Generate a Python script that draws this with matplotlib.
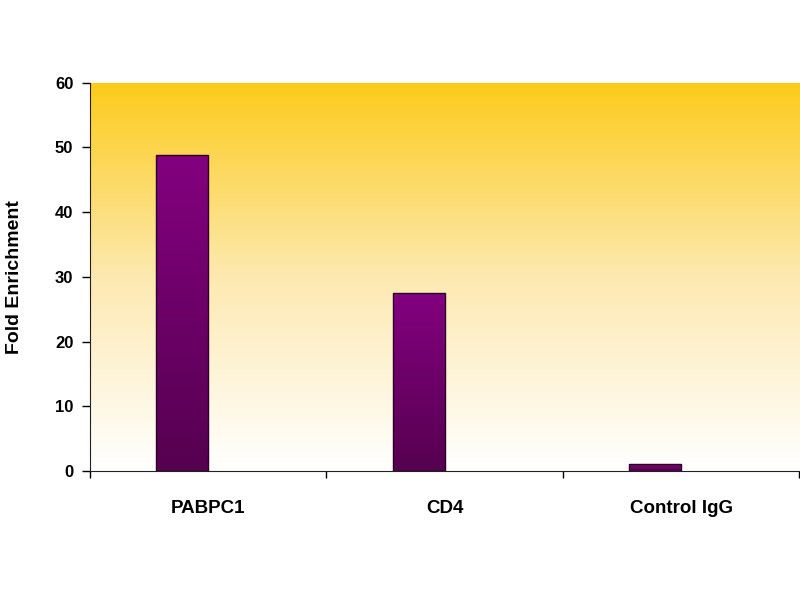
import numpy as np
import matplotlib.pyplot as plt
from matplotlib.colors import LinearSegmentedColormap
from matplotlib.patches import Rectangle

categories = ['PABPC1', 'CD4', 'Control IgG']
fold_enrichment = [48.9, 27.5, 1.1]
y_ticks = [0, 10, 20, 30, 40, 50, 60]

plt.rcParams['font.family'] = ['Liberation Sans', 'DejaVu Sans']
plt.rcParams['font.weight'] = 'bold'

fig = plt.figure(figsize=(8, 6), dpi=100)
ax = fig.add_axes([0.1125, 0.215, 0.8865, 0.647])

x = np.arange(len(categories))
ax.set_xlim(-0.5, len(categories) - 0.5)
ax.set_ylim(0, 60)

# background gradient: gold at top fading to white
bg = LinearSegmentedColormap.from_list('bg', ['#ffffff', '#fde9b0', '#fccb1a'])
grad = np.linspace(0, 1, 256).reshape(-1, 1)
ax.imshow(grad, cmap=bg, aspect='auto', origin='lower',
          extent=[-0.5, len(categories) - 0.5, 0, 60], zorder=0)

# bars with vertical purple gradient
bar_cmap = LinearSegmentedColormap.from_list('bar', ['#560050', '#83007f'])
width = 0.22
offset = -0.11
for xi, v in zip(x, fold_enrichment):
    left = xi + offset - width / 2
    im = ax.imshow(grad, cmap=bar_cmap, aspect='auto', origin='lower',
                   extent=[left, left + width, 0, v], zorder=2)
    rect = Rectangle((left, 0), width, v, facecolor='none',
                     edgecolor='#2a0028', linewidth=1.0, zorder=3)
    ax.add_patch(rect)
    im.set_clip_path(rect)

ax.set_xlim(-0.5, len(categories) - 0.5)
ax.set_ylim(0, 60)

ax.set_xticks(x)
ax.set_xticklabels(categories, fontsize=13.5, fontweight='bold')
ax.set_xticks(np.arange(-0.5, len(categories)), minor=True)
ax.tick_params(axis='x', which='major', length=0, pad=21)
ax.tick_params(axis='x', which='minor', length=5, direction='out', width=1)
ax.set_yticks(y_ticks)
ax.set_yticklabels([str(t) for t in y_ticks], fontsize=12, fontweight='bold')
ax.tick_params(axis='y', length=6, direction='out', width=1, pad=6)

ax.set_ylabel('Fold Enrichment', fontsize=14, fontweight='bold', labelpad=23)

for s in ['top', 'right']:
    ax.spines[s].set_visible(False)
ax.spines['left'].set_color('#222222')
ax.spines['bottom'].set_color('#222222')

fig.savefig('out.png', dpi=100)
